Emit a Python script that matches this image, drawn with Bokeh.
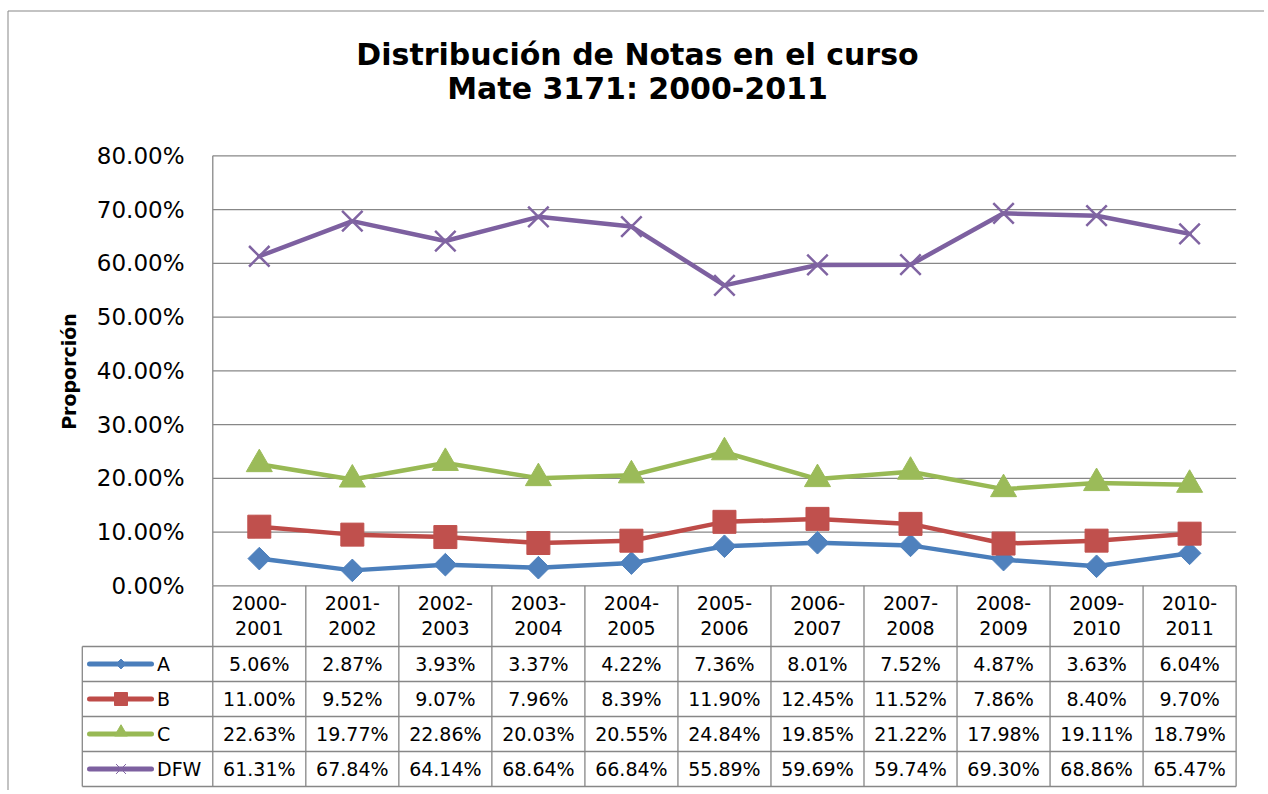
import numpy as np
from bokeh.plotting import figure
from bokeh.models import Range1d
from bokeh.core.properties import value
from bokeh.embed import file_html
from bokeh.resources import INLINE

# ---------------- data ----------------
categories = ["2000-2001", "2001-2002", "2002-2003", "2003-2004", "2004-2005",
              "2005-2006", "2006-2007", "2007-2008", "2008-2009", "2009-2010",
              "2010-2011"]
series_names = ["A", "B", "C", "DFW"]
a_vals = [5.06, 2.87, 3.93, 3.37, 4.22, 7.36, 8.01, 7.52, 4.87, 3.63, 6.04]
b_vals = [11.00, 9.52, 9.07, 7.96, 8.39, 11.90, 12.45, 11.52, 7.86, 8.40, 9.70]
c_vals = [22.63, 19.77, 22.86, 20.03, 20.55, 24.84, 19.85, 21.22, 17.98, 19.11, 18.79]
dfw_vals = [61.31, 67.84, 64.14, 68.64, 66.84, 55.89, 59.69, 59.74, 69.30, 68.86, 65.47]
y_ticks = [0, 10, 20, 30, 40, 50, 60, 70, 80]
y_tick_labels = ["%.2f%%" % t for t in y_ticks]
title_lines = ["Distribución de Notas en el curso", "Mate 3171: 2000-2011"]
y_label = "Proporción"

all_vals = [a_vals, b_vals, c_vals, dfw_vals]
line_colors = ["#4A7EBB", "#BE4B48", "#98B954", "#7D60A0"]
marker_colors = ["#4F81BD", "#C0504D", "#9BBB59", "#8064A2"]
GRID = "#878787"
TXT = "#000000"

# ---------------- layout constants (page pixels) ----------------
W, H = 1264, 790
OX, OY = 0, 0
X0, DX = 258.8, 93.03      # first category centre, column width
Y0, SY = 585.3, 5.375      # 0% line, px per percent
R0, RH = 646.0, 35.0       # first table row top, row height


def ix(px):
    return (px - X0) / DX


def py(pyv):
    return (Y0 - pyv) / SY


def pr(pyv):
    return (pyv - R0) / RH


p = figure(width=W, height=H, output_backend="svg", toolbar_location=None,
           x_range=Range1d(ix(OX), ix(OX + W)),
           y_range=Range1d(py(OY + H), py(OY)),
           min_border=0, x_axis_location=None, y_axis_location=None)
p.extra_y_ranges = {"tbl": Range1d(pr(OY + H), pr(OY))}
p.outline_line_color = None
p.background_fill_color = "white"
p.border_fill_color = "white"
p.grid.visible = False
p.xgrid.grid_line_color = None
p.ygrid.grid_line_color = None

n = len(categories)
xs = list(range(n))
left_edge = -0.5
right_edge = n - 0.5
bottom_row = pr(786)
tbl_top = pr(Y0)
leg_left = ix(81.8)
F = value("DejaVu Sans")

# chart area border (top and left)
p.segment(x0=[ix(7.5), ix(7.5)], y0=[py(10.5), py(10.5)],
          x1=[ix(OX + W), ix(7.5)], y1=[py(10.5), py(OY + H)],
          line_color=GRID, line_width=1)

# horizontal gridlines
p.segment(x0=[left_edge] * len(y_ticks), x1=[right_edge] * len(y_ticks),
          y0=y_ticks, y1=y_ticks, line_color=GRID, line_width=1.3)
# value axis line
p.segment(x0=[left_edge], x1=[left_edge], y0=[y_ticks[-1]], y1=[0],
          line_color=GRID, line_width=1.3)

# table vertical lines
p.segment(x0=[left_edge + k for k in range(n + 1)],
          x1=[left_edge + k for k in range(n + 1)],
          y0=[tbl_top] * (n + 1), y1=[bottom_row] * (n + 1),
          line_color=GRID, line_width=1.3, y_range_name="tbl")
p.segment(x0=[leg_left], x1=[leg_left], y0=[0], y1=[bottom_row],
          line_color=GRID, line_width=1.3, y_range_name="tbl")
# table horizontal lines
row_lines = [0, 1, 2, 3, bottom_row]
p.segment(x0=[leg_left] * len(row_lines), x1=[right_edge] * len(row_lines),
          y0=row_lines, y1=row_lines, line_color=GRID, line_width=1.3,
          y_range_name="tbl")

# y tick labels
p.text(x=[ix(184)] * len(y_ticks), y=y_ticks, text=y_tick_labels,
       text_align="right", text_baseline="middle", text_font=F,
       text_font_size="23px", text_color=TXT)

# axis title
p.text(x=[ix(68)], y=[py(371)], text=[y_label], angle=np.pi / 2,
       text_align="center", text_baseline="middle", text_font=F,
       text_font_style="bold", text_font_size="19px", text_color=TXT)

# chart title
p.text(x=[ix(637)] * 2, y=[py(54), py(88)], text=title_lines,
       text_align="center", text_baseline="middle", text_font=F,
       text_font_style="bold", text_font_size="30px", text_color=TXT)

# series lines
for vals, lc in zip(all_vals, line_colors):
    p.line(x=xs, y=vals, line_color=lc, line_width=4.5, line_join="round",
           line_cap="round")

# series markers
p.scatter(x=xs, y=a_vals, marker="square", angle=np.pi / 4, size=16,
          fill_color=marker_colors[0], line_color=marker_colors[0])
p.scatter(x=xs, y=b_vals, marker="square", size=23,
          fill_color=marker_colors[1], line_color=marker_colors[1])
p.scatter(x=xs, y=c_vals, marker="triangle", size=26,
          fill_color=marker_colors[2], line_color=marker_colors[2])
p.scatter(x=xs, y=dfw_vals, marker="x", size=29,
          line_color=marker_colors[3], line_width=2.5)

# table header (category labels)
tops = [c.split("-")[0] + "-" for c in categories]
bots = [c.split("-")[1] for c in categories]
p.text(x=xs, y=[pr(602.5)] * n, text=tops, text_align="center",
       text_baseline="middle", text_font=F, text_font_size="19px",
       text_color=TXT, y_range_name="tbl")
p.text(x=xs, y=[pr(627.5)] * n, text=bots, text_align="center",
       text_baseline="middle", text_font=F, text_font_size="19px",
       text_color=TXT, y_range_name="tbl")

# table values
for r, vals in enumerate(all_vals):
    p.text(x=xs, y=[r + 0.5] * n, text=["%.2f%%" % v for v in vals],
           text_align="center", text_baseline="middle", text_font=F,
           text_font_size="19px", text_color=TXT, y_range_name="tbl")

# legend keys inside table
rows = [r + 0.5 for r in range(len(series_names))]
for r, lc in zip(rows, line_colors):
    p.segment(x0=[ix(89)], x1=[ix(151)], y0=[r], y1=[r], line_color=lc,
              line_width=5, line_cap="round", y_range_name="tbl")
mx = ix(120.5)
p.scatter(x=[mx], y=[rows[0]], marker="square", angle=np.pi / 4, size=7,
          fill_color=marker_colors[0], line_color=marker_colors[0], y_range_name="tbl")
p.scatter(x=[mx], y=[rows[1]], marker="square", size=13,
          fill_color=marker_colors[1], line_color=marker_colors[1], y_range_name="tbl")
p.scatter(x=[mx], y=[rows[2] - 0.05], marker="triangle", size=13,
          fill_color=marker_colors[2], line_color=marker_colors[2], y_range_name="tbl")
p.scatter(x=[mx], y=[rows[3]], marker="x", size=14,
          line_color=marker_colors[3], line_width=1, y_range_name="tbl")
p.text(x=[ix(156.5)] * len(series_names), y=rows, text=series_names,
       text_align="left", text_baseline="middle", text_font=F,
       text_font_size="19px", text_color=TXT, y_range_name="tbl")

open("out.html", "w").write(file_html(p, INLINE))
